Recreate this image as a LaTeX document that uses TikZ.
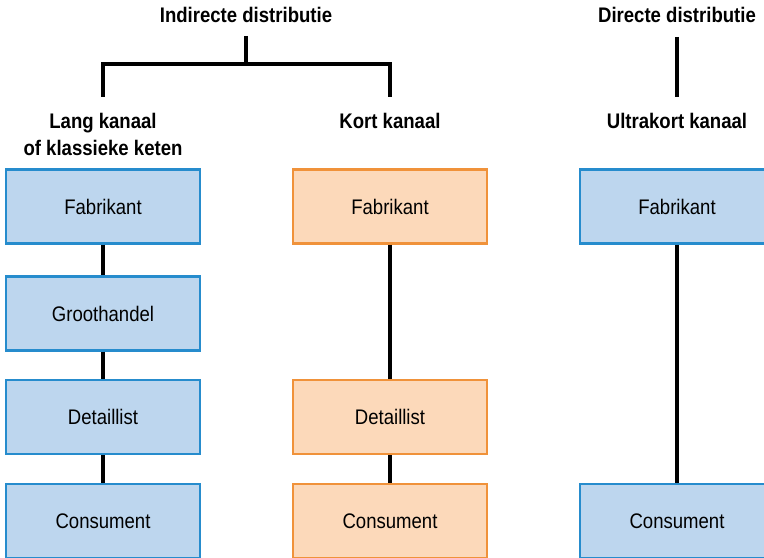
\documentclass[tikz,border=0pt]{standalone}
\usepackage{fontspec}
\setmainfont{Liberation Sans}[FakeStretch=0.88]
\usepackage{tikz}
\usetikzlibrary{positioning}
\definecolor{blauwfill}{RGB}{189,214,238}
\definecolor{blauwrand}{RGB}{38,140,205}
\definecolor{oranjefill}{RGB}{252,217,186}
\definecolor{oranjerand}{RGB}{240,146,58}
\begin{document}
\begin{tikzpicture}[x=0.025cm,y=-0.025cm,
    box/.style={draw,line width=1.5pt,minimum width=4.85cm,minimum height=1.85cm,inner sep=0pt,font=\fontsize{15}{18}\selectfont},
    blauw/.style={box,fill=blauwfill,draw=blauwrand},
    oranje/.style={box,fill=oranjefill,draw=oranjerand},
    kop/.style={anchor=base,align=center,inner sep=0pt,font=\fontsize{15}{19.2}\selectfont\bfseries},
    lijn/.style={line width=2.3pt,black}]
    \useasboundingbox (0,0) rectangle (764,558);
    \clip (0,0) rectangle (764,558);
    % koppen
    \node[kop] (indir) at (246,22.7) {Indirecte distributie};
    \node[kop] (dir) at (677,22.7) {Directe distributie};
    \node[kop,anchor=north] (lang) at (103,113) {Lang kanaal\\of klassieke keten};
    \node[kop] (kort) at (390,129) {Kort kanaal};
    \node[kop] (ultra) at (677,129) {Ultrakort kanaal};
    \coordinate (i0) at (246,36);
    \coordinate (i1) at (246,64);
    \coordinate (il) at (103,64);
    \coordinate (ir) at (390,64);
    \coordinate (il2) at (103,97);
    \coordinate (ir2) at (390,97);
    \coordinate (d0) at (677,37);
    \coordinate (d1) at (677,97);
    \draw[lijn] (i0) -- (i1);
    \draw[lijn] (il2) -- (il) -- (ir) -- (ir2);
    \draw[lijn] (d0) -- (d1);

    % lang kanaal
    \node[blauw] (lfab) at (103,206.5) {Fabrikant};
    \node[blauw] (lgro) at (103,313.5) {Groothandel};
    \node[blauw] (ldet) at (103,417) {Detaillist};
    \node[blauw] (lcon) at (103,521) {Consument};
    % kort kanaal
    \node[oranje] (kfab) at (390,206.5) {Fabrikant};
    \node[oranje] (kdet) at (390,417) {Detaillist};
    \node[oranje] (kcon) at (390,521) {Consument};
    % ultrakort kanaal
    \node[blauw] (ufab) at (677,206.5) {Fabrikant};
    \node[blauw] (ucon) at (677,521) {Consument};

    \draw[lijn] (lfab) -- (lgro);
    \draw[lijn] (lgro) -- (ldet);
    \draw[lijn] (ldet) -- (lcon);
    \draw[lijn] (kfab) -- (kdet);
    \draw[lijn] (kdet) -- (kcon);
    \draw[lijn] (ufab) -- (ucon);
  \end{tikzpicture}
\end{document}
